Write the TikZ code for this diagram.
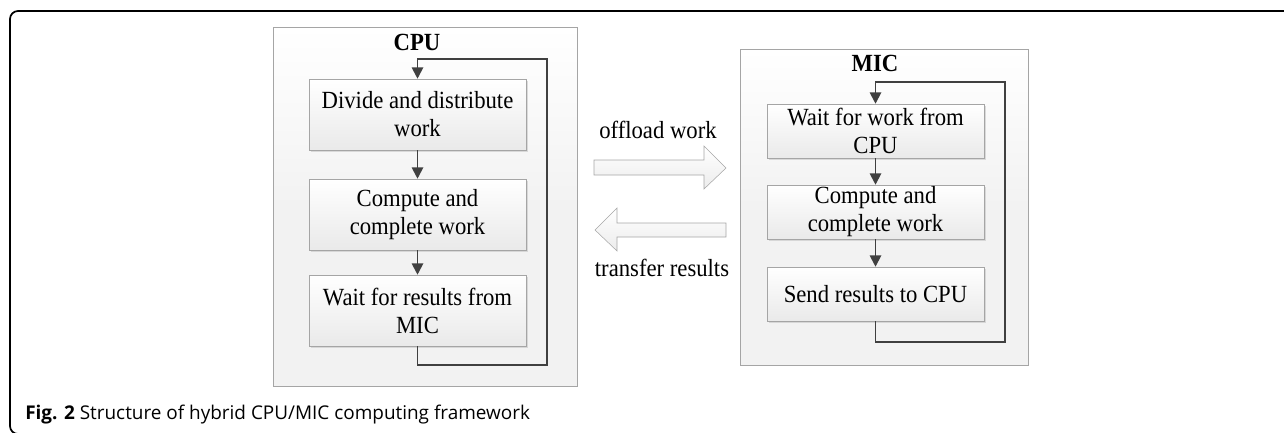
\documentclass[tikz,border=0pt]{standalone}
\usepackage{fontspec}
\setmainfont{Liberation Serif}[FakeStretch=0.92]
\newfontfamily\capfont{Open Sans}
\usepackage{tikz}
\usetikzlibrary{arrows.meta,shadows}
\definecolor{linegray}{RGB}{64,64,64}
\definecolor{edgegray}{RGB}{165,165,165}
\definecolor{panelgray}{RGB}{242,242,242}
\tikzstyle{panel}=[draw=edgegray,top color=white,bottom color=panelgray,middle color=panelgray,
  drop shadow={shadow xshift=1pt,shadow yshift=-1pt,fill=gray!40,opacity=.5}]
\tikzstyle{stepbox}=[draw=edgegray,top color=white,bottom color=gray!17,inner sep=0pt,align=center,
  minimum width=162.75pt,drop shadow={shadow xshift=1.5pt,shadow yshift=-1.5pt,fill=gray!45,opacity=.6}]
\tikzstyle{bigarrow}=[draw=gray!70,top color=white,bottom color=gray!15]
\tikzstyle{lbl}=[inner sep=0pt]

\begin{document}
\begin{tikzpicture}[x=0.75pt,y=-0.75pt,font=\fontsize{18.5}{21}\selectfont]

\tikzstyle{loopline}=[draw=linegray,line width=1.4pt,-{Triangle[length=8.5pt,width=8.5pt]}]
\tikzstyle{flow}=[draw=linegray,line width=1.4pt,-{Triangle[length=8.5pt,width=8.5pt]}]

\useasboundingbox (0,0) rectangle (1284,432);
\draw [line width=1.3pt,rounded corners=6pt] (10,11) rectangle (1300,434);

% CPU side
\node (cpu) [panel,minimum width=228pt,minimum height=269.25pt] at (425,206.5) {};
\node (cputitle) [lbl] at (417,42) {\textbf{CPU}};
\node (c1) [stepbox,minimum height=53.25pt] at (417.5,114.5) {Divide and distribute\\work};
\node (c2) [stepbox,minimum height=53.25pt] at (417.5,214.5) {Compute and\\complete work};
\node (c3) [stepbox,minimum height=53.25pt] at (417.5,310.5) {Wait for results from\\MIC};

\draw [flow] (c1) -- (c2);
\draw [flow] (c2) -- (c3);
\draw [loopline] (c3.south) -- ++(0,19) -| (547,59) -| (c1.north);

% MIC side
\node (mic) [panel,minimum width=216pt,minimum height=237pt] at (884,207) {};
\node (mictitle) [lbl] at (875,63) {\textbf{MIC}};
\node (m1) [stepbox,minimum height=40.5pt] at (875.5,131) {Wait for work from\\CPU};
\node (m2) [stepbox,minimum height=40.5pt] at (875.5,212) {Compute and\\complete work};
\node (m3) [stepbox,minimum height=40.5pt] at (875.5,294) {Send results to CPU};

\draw [flow] (m1) -- (m2);
\draw [flow] (m2) -- (m3);
\draw [loopline] (m3.south) -- ++(0,21) -| (1005,82) -| (m1.north);

% block arrows between the two sides
\coordinate (offtail) at (594,167.5);
\coordinate (backtail) at (726,230);
\draw [bigarrow] (offtail) ++(0,-7.5) -- ++(110,0) -- ++(0,-14) -- ++(22,22) -- ++(-22,21) -- ++(0,-14) -- ++(-110,0) -- cycle;
\draw [bigarrow] (backtail) ++(0,-7) -- ++(-109,0) -- ++(0,-15) -- ++(-22,22) -- ++(22,21) -- ++(0,-14) -- ++(109,0) -- cycle;
\node (offlbl) [lbl] at (658,130) {offload work};
\node (backlbl) [lbl] at (662,268) {transfer results};

% caption
\node (cap) [lbl,anchor=west] at (25,415) {\capfont\fontsize{14.2}{16}\selectfont\textbf{Fig. 2} Structure of hybrid CPU/MIC computing framework};

\end{tikzpicture}
\end{document}
